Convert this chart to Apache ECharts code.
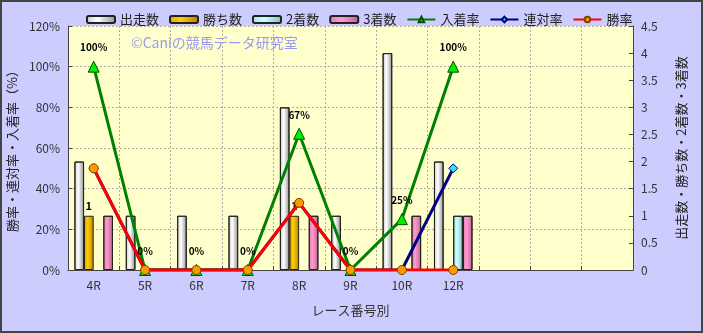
<!DOCTYPE html>
<html>
<head>
<meta charset="utf-8">
<title>レース番号別</title>
<script src="https://cdn.jsdelivr.net/npm/echarts@6/dist/echarts.min.js"></script>
<style>
  html, body { margin: 0; padding: 0; background: #ccccff; }
  #chart { width: 703px; height: 333px; }
</style>
</head>
<body>
<div id="chart"></div>
<script>
// レース番号 (後ろ3つは空の枠)
var categories = ['4R', '5R', '6R', '7R', '8R', '9R', '10R', '12R', '', '', ''];
var runners = [2, 1, 1, 1, 3, 1, 4, 2];
var wins = [1, 0, 0, 0, 1, 0, 0, 0];
var seconds = [0, 0, 0, 0, 0, 0, 0, 1];
var thirds = [1, 0, 0, 0, 1, 0, 1, 1];
var placeRate = [100, 0, 0, 0, 67, 0, 25, 100];
var quinellaRate = [50, 0, 0, 0, 33, 0, 0, 50];
var winRate = [50, 0, 0, 0, 33, 0, 0, 0];
var leftTicks = [0, 120, 20];
var rightTicks = [0, 4.5, 0.5];

var font = '"Noto Sans CJK JP", sans-serif';
var myChart = echarts.init(document.getElementById('chart'));

function grad(c1, c2, c3) {
  return new echarts.graphic.LinearGradient(0, 0, 1, 0, [
    { offset: 0, color: c1 },
    { offset: 0.4, color: c2 },
    { offset: 1, color: c3 }
  ]);
}

// 0 の棒は描かない
function noZero(arr) {
  return arr.map(function (v) { return v === 0 ? '-' : v; });
}

function barSeries(name, data, color) {
  return {
    name: name,
    type: 'bar',
    yAxisIndex: 1,
    barGap: 0,
    barCategoryGap: '25%',
    itemStyle: { color: color, borderColor: '#222', borderWidth: 1 },
    data: noZero(data)
  };
}

var gridLine = { color: '#aaa', type: [2, 2], width: 1 };

var option = {
  backgroundColor: '#ccccff',
  textStyle: { fontFamily: font },
  graphic: [{
    type: 'rect',
    shape: { x: 1, y: 1, width: 701, height: 331 },
    style: { fill: 'none', stroke: '#444', lineWidth: 2 },
    silent: true
  }, {
    type: 'text',
    left: 131, top: 36,
    style: { text: '©Caniの競馬データ研究室', fill: '#9a9af0', font: '14px ' + font },
    silent: true
  }],
  legend: {
    left: 81, top: 8,
    itemWidth: 28, itemHeight: 7, itemGap: 10,
    textStyle: { fontSize: 13, color: '#222' },
    data: ['出走数', '勝ち数', '2着数', '3着数', '入着率', '連対率', '勝率']
  },
  grid: {
    left: 68, right: 70, top: 26, bottom: 63,
    outerBoundsMode: 'none',
    containLabel: false,
    show: true, backgroundColor: '#ffffcc', borderWidth: 0
  },
  xAxis: {
    type: 'category',
    data: categories,
    name: 'レース番号別',
    nameLocation: 'middle',
    nameGap: 34,
    nameTextStyle: { fontSize: 13, color: '#333' },
    axisLine: { lineStyle: { color: '#444', width: 1 } },
    axisTick: { show: true, inside: true, length: 4, interval: 0, lineStyle: { color: '#444' } },
    axisLabel: { fontSize: 12, color: '#333', margin: 9 },
    splitLine: { show: true, interval: 0, lineStyle: gridLine }
  },
  yAxis: [{
    type: 'value',
    min: leftTicks[0], max: leftTicks[1], interval: leftTicks[2],
    name: '勝率・連対率・入着率（%）',
    nameLocation: 'middle',
    nameRotate: 90,
    nameGap: 43,
    nameTextStyle: { fontSize: 13, color: '#222' },
    axisLine: { show: true, lineStyle: { color: '#444' } },
    axisTick: { show: true, inside: true, length: 4, lineStyle: { color: '#444' } },
    axisLabel: { formatter: '{value}%', fontSize: 12, color: '#333', margin: 8 },
    splitLine: { lineStyle: gridLine }
  }, {
    type: 'value',
    position: 'right',
    min: rightTicks[0], max: rightTicks[1], interval: rightTicks[2],
    name: '出走数・勝ち数・2着数・3着数',
    nameLocation: 'middle',
    nameRotate: 90,
    nameGap: 42,
    nameTextStyle: { fontSize: 13, color: '#222' },
    axisLine: { show: true, lineStyle: { color: '#444' } },
    axisTick: { show: true, inside: true, length: 4, lineStyle: { color: '#444' } },
    axisLabel: { fontSize: 12, color: '#333', margin: 8 },
    splitLine: { show: false }
  }],
  series: [
    barSeries('出走数', runners, grad('#c8c8c8', '#ffffff', '#909090')),
    (function () {
      var s = barSeries('勝ち数', wins, grad('#e0a800', '#ffcc00', '#b08000'));
      s.label = {
        show: true, position: 'top', distance: 4,
        fontSize: 11, fontWeight: 'bold', color: '#000'
      };
      return s;
    })(),
    barSeries('2着数', seconds, grad('#a8e0e0', '#ccffff', '#80c0c0')),
    barSeries('3着数', thirds, grad('#e080b0', '#ff99cc', '#c06090')),
    {
      name: '入着率',
      type: 'line',
      yAxisIndex: 0,
      symbol: 'triangle',
      symbolSize: 11,
      lineStyle: { color: '#008000', width: 3 },
      itemStyle: { color: '#00ee00', borderColor: '#005000', borderWidth: 1 },
      label: {
        show: true, position: 'top', distance: 8,
        fontSize: 10, fontWeight: 'bold', color: '#000',
        formatter: '{c}%'
      },
      data: placeRate
    },
    {
      name: '連対率',
      type: 'line',
      yAxisIndex: 0,
      symbol: 'diamond',
      symbolSize: 9,
      lineStyle: { color: '#000080', width: 3 },
      itemStyle: { color: '#33ddff', borderColor: '#000080', borderWidth: 1 },
      data: quinellaRate
    },
    {
      name: '勝率',
      type: 'line',
      yAxisIndex: 0,
      symbol: 'circle',
      symbolSize: 9,
      lineStyle: { color: '#ff0000', width: 3 },
      itemStyle: { color: '#ff9900', borderColor: '#804000', borderWidth: 1 },
      data: winRate
    }
  ]
};
myChart.setOption(option);
</script>
</body>
</html>
